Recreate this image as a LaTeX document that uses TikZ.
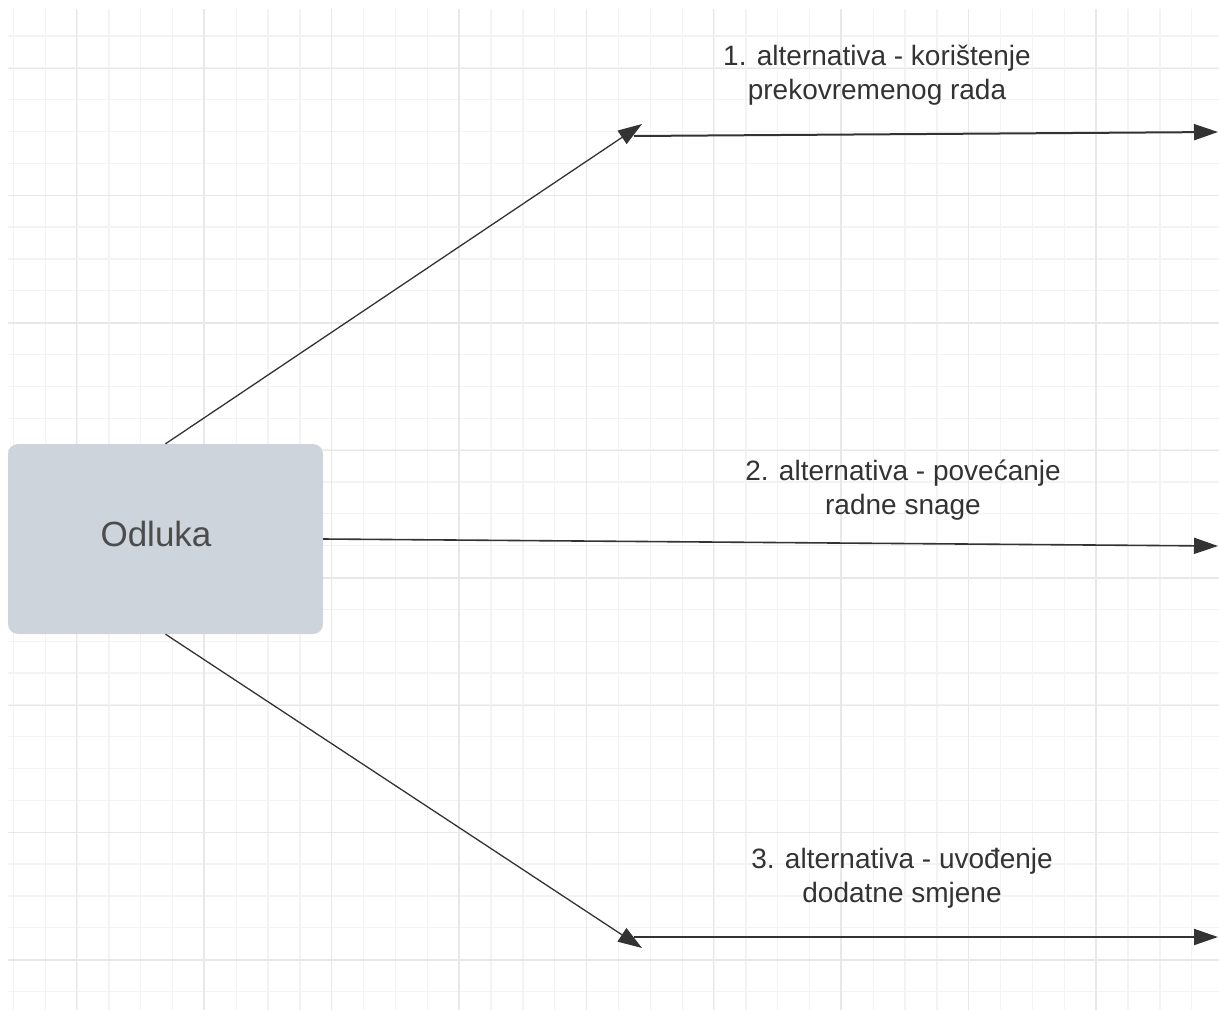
\documentclass[tikz,border=0pt]{standalone}
\usepackage{fontspec}
\setmainfont{Liberation Sans}
\usetikzlibrary{arrows.meta}

\definecolor{gridminor}{HTML}{F3F3F3}
\definecolor{gridmajor}{HTML}{E8E8E8}
\definecolor{boxfill}{HTML}{CED4DC}
\definecolor{inkgray}{HTML}{333333}

\tikzset{
  gridline/.style={draw=gridminor, line width=1.3pt},
  gridbold/.style={draw=gridmajor, line width=1.5pt},
  decision/.style={rectangle, rounded corners=10pt, fill=boxfill,
    minimum width=315pt, minimum height=190pt, inner sep=0pt,
    text=black!70, font=\fontsize{35}{42}\selectfont,
    text height=20pt, text depth=6pt},
  alt/.style={align=center, text=inkgray, inner sep=0pt,
    font=\fontsize{28}{34}\selectfont},
  arr/.style={draw=inkgray, line width=1.3pt,
    -{Triangle[length=24pt,width=16pt]}},
  branch/.style={arr, line width=2pt},
}

\begin{document}
\begin{tikzpicture}[x=1pt,y=-1pt]
  \useasboundingbox (0,0) rectangle (1219,1010);

  % grid
  \foreach \k in {0,...,37}
    \draw[gridline] ({13.3+31.85*\k},9) -- ({13.3+31.85*\k},1010);
  \foreach \k in {0,...,30}
    \draw[gridline] (8,{36+31.85*\k}) -- (1219,{36+31.85*\k});
  \foreach \k in {0,...,8}
    \draw[gridbold] ({76.7+127.4*\k},9) -- ({76.7+127.4*\k},1010);
  \foreach \k in {0,...,7}
    \draw[gridbold] (8,{68.3+127.4*\k}) -- (1219,{68.3+127.4*\k});

  \node[decision] (dec) at (165.5,539) {Odluka\kern19pt};

  \coordinate (up) at (642,124);
  \coordinate (upS) at (634,136);
  \coordinate (upE) at (1218,132);
  \coordinate (midE) at (1218,546);
  \coordinate (dn) at (642,948);
  \coordinate (dnS) at (634,937);
  \coordinate (dnE) at (1218,937);

  \draw[arr] (dec.north) -- (up);
  \draw[arr] (dec.south) -- (dn);
  \draw[arr, line width=1.6pt] (dec.east) -- (midE);
  \draw[branch] (upS) -- (upE);
  \draw[branch] (dnS) -- (dnE);

  \node[alt] (alt1) at (877,75) {1. alternativa - korištenje\\prekovremenog rada};
  \node[alt] (alt2) at (903,490) {2. alternativa - povećanje\\radne snage};
  \node[alt] (alt3) at (902,878) {3. alternativa - uvođenje\\dodatne smjene};
\end{tikzpicture}
\end{document}
